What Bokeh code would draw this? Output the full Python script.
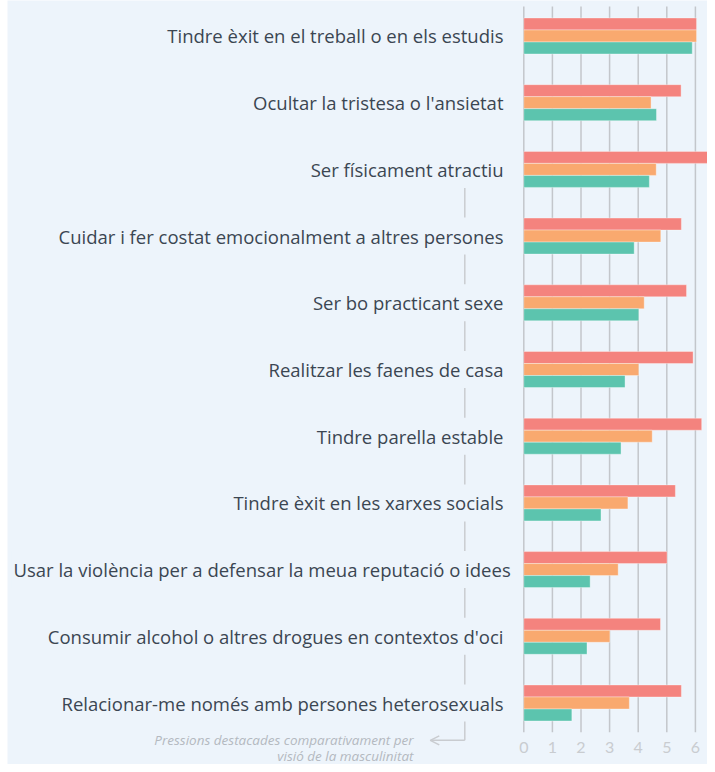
from bokeh.plotting import figure
from bokeh.models import Range1d, Arrow, OpenHead
from bokeh.embed import file_html
from bokeh.resources import INLINE
from bokeh.core.properties import value

categories = [
    "Tindre èxit en el treball o en els estudis",
    "Ocultar la tristesa o l'ansietat",
    "Ser físicament atractiu",
    "Cuidar i fer costat emocionalment a altres persones",
    "Ser bo practicant sexe",
    "Realitzar les faenes de casa",
    "Tindre parella estable",
    "Tindre èxit en les xarxes socials",
    "Usar la violència per a defensar la meua reputació o idees",
    "Consumir alcohol o altres drogues en contextos d'oci",
    "Relacionar-me només amb persones heterosexuals",
]
series_red = [6.04, 5.50, 6.53, 5.51, 5.69, 5.92, 6.22, 5.30, 5.01, 4.78, 5.51]
series_orange = [6.04, 4.45, 4.63, 4.79, 4.21, 4.02, 4.49, 3.64, 3.30, 3.01, 3.69]
series_green = [5.89, 4.64, 4.39, 3.86, 4.02, 3.54, 3.40, 2.70, 2.32, 2.21, 1.68]
tick_values = [0, 1, 2, 3, 4, 5, 6]
tick_labels = ["0", "1", "2", "3", "4", "5", "6"]
note_lines = ["Pressions destacades comparativament per", "visió de la masculinitat"]

BG = "#edf4fb"
RED = "#f4837e"
ORANGE = "#f9a96f"
GREEN = "#5cc4ae"
GRID = "#c3c6cb"
LABEL = "#3b4652"
TICK = "#c9ccd0"
NOTE = "#b4b9c0"
ANN = "#c9ccd0"

W, H = 707, 764
p = figure(width=W, height=H, output_backend="svg", toolbar_location=None,
           x_range=Range1d(-18.052, 6.423), y_range=Range1d(10.922, -0.532),
           min_border=0, min_border_left=7,
           background_fill_color=BG, border_fill_color="white",
           outline_line_color=None)
p.axis.visible = False
p.grid.visible = False

n = len(categories)
idx = list(range(n))
bar_h = 0.18

# grid lines
p.segment(x0=tick_values, y0=[-0.442] * len(tick_values), x1=tick_values,
          y1=[10.438] * len(tick_values), line_color=GRID, line_width=1.5)

# bars
for vals, off, col in [(series_red, -bar_h, RED), (series_orange, 0.0, ORANGE),
                       (series_green, bar_h, GREEN)]:
    p.hbar(y=[i + off for i in idx], left=0, right=vals, height=bar_h,
           fill_color=col, line_color="white", line_alpha=0.35, line_width=1)

# annotation line with arrow
p.segment(x0=[-2.063], y0=[2.0], x1=[-2.063], y1=[10.56], line_color=ANN, line_width=1.5)
p.add_layout(Arrow(end=OpenHead(size=9, line_color=ANN, line_width=1.5),
                   x_start=-2.063, y_start=10.56, x_end=-3.27, y_end=10.56,
                   line_color=ANN, line_width=1.5))

# category labels (background breaks the annotation line)
normal = [i for i in idx if len(categories[i]) <= 52]
wide = [i for i in idx if len(categories[i]) > 52]
common = dict(text_baseline="middle", text_font=value("Open Sans"),
              text_font_size="18.5px", text_color=LABEL,
              background_fill_color=BG, padding=(2, 6))
p.text(x=[-0.64] * len(normal), y=normal, text=[categories[i] for i in normal],
       text_align="right", **common)
p.text(x=[-17.913] * len(wide), y=wide, text=[categories[i] for i in wide],
       text_align="left", **common)

# tick labels
p.text(x=tick_values, y=[10.663] * len(tick_values), text=tick_labels,
       text_align="center", text_baseline="middle", text_font=value("Lato"),
       text_font_size="16px", text_color=TICK)

# note
p.text(x=[-3.857, -3.857], y=[10.55, 10.79], text=note_lines,
       text_align="right", text_baseline="middle", text_font=value("Open Sans"),
       text_font_style="italic", text_font_size="13.5px", text_color=NOTE)

open("out.html", "w").write(file_html(p, INLINE))
